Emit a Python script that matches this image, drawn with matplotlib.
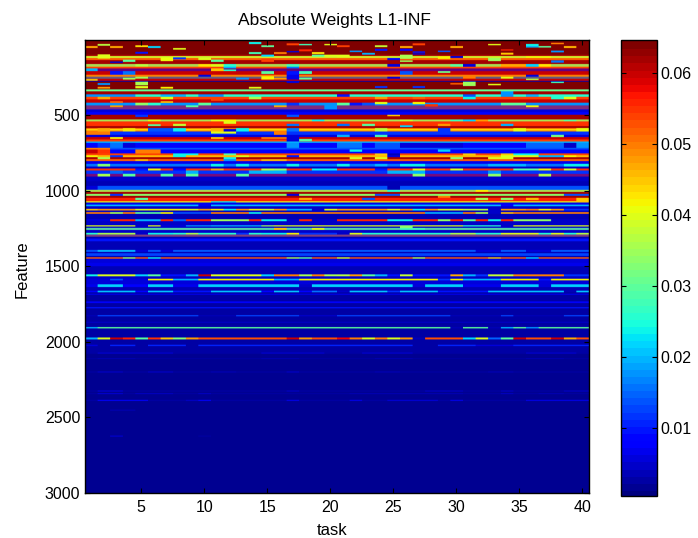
import numpy as np
import matplotlib
matplotlib.use("Agg")
import matplotlib.pyplot as plt

plt.rcParams['font.family'] = ['Liberation Sans', 'DejaVu Sans']

title = "Absolute Weights L1-INF"
x_label = "task"
y_label = "Feature"
x_ticks = [5, 10, 15, 20, 25, 30, 35, 40]
y_ticks = [500, 1000, 1500, 2000, 2500, 3000]
cbar_ticks = [0.01, 0.02, 0.03, 0.04, 0.05, 0.06]
n_tasks = 40
n_features = 3000

# Feature index where each horizontal band starts, and the band's usual weight
band_start = [0,97,106,119,133,159,177,188,206,230,243,270,276,327,340,360,376,393,415,433,460,477,495,526,539,570,583,606,628,643,659,672,681,714,725,751,763,776,789,802,820,838,851,864,886,904,935,966,992,1006,1019,1032,1045,1068,1076,1090,1101,1118,1129,1140,1151,1187,1200,1227,1235,1244,1258,1277,1288,1302,1315,1333,1390,1403,1412,1430,1439,1448,1476,1498,1552,1565,1581,1592,1618,1636,1660,1671,1680,1687,1731,1742,1769,1777,1822,1830,1866,1872,1901,1910,1970,1983,2018,2027,2069,2078,2107,2113,2195,2202,2321,2328,2339,2345,2383,2390]
band_weight = [.064,.062,.043,.052,.062,.046,.054,.008,.06,.05,.06,.004,.064,.034,.062,.026,.054,.06,.018,.056,.006,.009,.062,.045,.055,.062,.043,.012,.006,.06,.054,.02,.009,.014,.008,.054,.046,.062,.052,.007,.016,.005,.055,.012,.058,.005,.004,.014,.046,.062,.04,.062,.056,.04,.007,.02,.005,.048,.005,.05,.004,.056,.005,.04,.005,.036,.005,.026,.05,.004,.01,.004,.017,.004,.013,.004,.052,.006,.007,.004,.04,.005,.042,.006,.022,.004,.021,.003,.007,.003,.009,.003,.01,.003,.013,.003,.005,.003,.03,.003,.053,.0025,.011,.0025,.0025,.002,.0025,.002,.0025,.002,.0025,.002,.0025,.002,.0025,.002]

# Bands whose features alternate between two weights: first feature, end feature, second weight
mixed_bands = [
(188,206,.06),(243,256,.02),(433,460,.012),(886,904,.01),(992,1006,.03),(1019,1032,.028),
(1244,1258,.02),(1288,1302,.008),(106,119,.036),(327,340,.028),(1390,1403,.012),
(159,177,.03),(526,539,.03),(583,591,.056),(599,606,.056),
]

# Departures from the band weight: first feature, end feature, first task, last task, weight
patches = [
(26,38,2,2,.037),(40,53,1,1,.047),(40,53,3,3,.047),(35,47,5,5,.043),(40,53,6,6,.022),(53,64,8,8,.04),(13,27,14,14,.024),(35,47,15,15,.03),(22,35,17,17,.054),(26,35,18,18,.028),(62,75,18,18,.056),(26,35,20,20,.04),(78,91,5,5,.01),(73,82,17,17,.006),(80,93,14,14,.028),(80,93,16,16,.05),(80,93,19,19,.043),
(95,123,2,2,.04),(97,110,15,15,.022),(97,110,19,19,.03),(97,110,20,20,.04),(115,140,7,7,.041),(123,145,15,15,.054),(115,128,8,8,.012),(142,152,3,3,.005),(130,145,4,4,.03),(130,145,11,11,.03),(119,133,10,10,.04),
(159,177,5,5,.037),(159,177,11,11,.04),(159,177,17,17,.028),(159,177,12,12,.026),(159,177,10,10,.043),(177,188,12,12,.02),(177,188,17,17,.016),(188,206,1,1,.02),(188,206,11,11,.045),(195,206,12,12,.026),(206,230,4,4,.016),(206,225,15,15,.03),(206,230,17,17,.01),(206,225,18,18,.028),(206,230,3,3,.01),
(250,262,4,4,.035),(240,262,15,15,.042),(250,262,16,16,.048),(250,262,13,13,.018),(258,270,1,1,.045),(250,262,18,18,.03),(230,243,10,10,.006),(230,262,17,17,.007),(243,256,5,5,.035),
(276,300,5,5,.036),(285,298,2,2,.018),(310,322,2,2,.048),(310,322,7,7,.042),(310,322,14,14,.04),(305,320,5,5,.04),(270,285,17,17,.006),
(360,376,1,4,.018),(360,376,10,11,.018),(360,376,7,8,.02),(376,393,2,2,.047),(376,393,7,7,.04),(376,393,14,14,.036),(393,403,11,11,.054),
(415,433,5,5,.034),(415,433,6,6,.026),(405,417,7,7,.046),(405,417,3,3,.052),(415,433,10,10,.03),(415,433,17,17,.012),(433,445,9,9,.03),(433,445,3,3,.048),(433,445,16,16,.047),(433,460,20,20,.018),
(495,510,5,5,.012),(495,510,17,17,.014),(526,539,11,11,.04),(526,539,12,12,.042),(526,539,6,6,.04),(526,539,19,19,.024),(539,555,12,12,.04),(555,570,8,8,.038),(558,570,6,6,.03),(555,570,17,17,.016),
(583,606,8,8,.024),(583,606,2,2,.047),(583,606,13,13,.024),(583,606,4,4,.043),(583,606,11,11,.046),(583,606,6,7,.014),(590,606,12,12,.006),(583,606,17,17,.016),(606,628,1,2,.05),(606,628,16,16,.05),(606,620,11,12,.04),(628,672,17,17,.006),
(643,655,3,3,.042),(643,655,11,11,.045),(643,655,15,16,.05),(655,670,18,18,.03),(681,714,3,3,.016),(681,714,17,17,.018),(681,714,2,2,.012),(681,714,4,4,.006),(714,725,1,2,.05),(725,751,1,1,.06),(725,751,2,2,.055),(725,751,5,6,.05),(751,763,8,8,.024),(751,763,9,9,.024),(751,763,12,12,.03),
# right half, top
(35,47,21,21,.054),(35,47,24,24,.038),(40,53,26,26,.047),(22,35,27,27,.054),(40,53,30,30,.047),(26,35,33,33,.04),(26,40,36,36,.024),(40,50,36,36,.02),(40,50,37,37,.03),(18,28,38,38,.05),(40,53,39,39,.046),(70,82,38,38,.018),(70,80,22,22,.018),(70,80,29,29,.014),(62,70,34,34,.056),(75,85,27,27,.01),(58,72,24,24,.01),(58,72,26,26,.008),(85,97,23,23,.02),(88,97,27,27,.006),(84,97,34,34,.045),
(97,115,21,21,.04),(97,125,26,26,.036),(106,125,29,29,.042),(106,119,30,30,.006),(106,119,36,37,.041),(119,140,33,33,.035),(135,150,38,38,.016),(135,145,26,26,.035),(119,133,25,25,.009),
(159,177,30,30,.03),(159,177,31,31,.006),(159,177,36,36,.022),(159,177,37,37,.043),(159,177,34,35,.047),(159,177,25,25,.006),(206,218,29,29,.032),(206,230,26,26,.014),(230,243,36,36,.006),(243,256,34,34,.04),(243,256,31,31,.05),(256,265,36,36,.037),(243,256,25,25,.006),
(276,285,38,38,.028),(285,295,30,30,.052),(276,305,31,31,.035),(305,318,24,24,.012),(305,318,27,27,.012),(290,300,33,33,.04),
(360,376,21,21,.01),(360,376,31,31,.014),(340,376,34,34,.018),(360,376,36,36,.02),(376,393,38,38,.026),(376,393,39,39,.04),(376,393,31,31,.024),(376,393,24,24,.048),(376,393,27,27,.052),
(415,433,21,21,.03),(415,433,22,22,.01),(415,433,23,23,.014),(410,425,24,24,.04),(410,425,27,27,.042),(425,440,28,28,.055),(433,445,36,36,.042),(415,433,34,35,.03),(495,505,25,25,.045),
(526,539,26,26,.038),(526,539,31,31,.022),(526,539,30,30,.028),(526,539,32,32,.048),(526,539,39,39,.03),(555,570,21,21,.016),(555,570,23,23,.03),(555,570,29,29,.048),(555,570,34,34,.02),(565,577,26,26,.022),
(583,606,24,24,.038),(583,606,29,29,.012),(583,606,40,40,.041),(583,606,35,35,.041),(628,643,24,24,.028),(628,643,38,38,.032),(628,643,21,21,.02),(681,714,21,22,.016),(681,714,24,25,.014),(681,714,26,29,.006),(681,714,30,30,.006),(681,714,36,38,.015),(681,714,39,39,.005),(681,714,40,40,.018),(725,740,29,29,.022),(725,740,22,22,.024),
(751,763,24,24,.045),(751,763,31,31,.045),(751,763,34,34,.045),(751,763,35,36,.024),(751,763,25,25,.004),
# middle
(763,776,1,1,.042),(763,776,8,8,.024),(763,776,17,17,.01),(763,776,13,13,.04),(763,776,3,3,.012),(776,789,2,2,.036),(776,789,12,12,.024),(789,802,5,5,.046),(789,802,15,16,.046),(789,802,12,12,.018),
(820,838,2,2,.033),(820,838,11,11,.024),(820,838,13,13,.024),(820,838,17,17,.024),(851,864,6,6,.042),(851,864,11,11,.047),(851,864,16,16,.035),(851,864,15,15,.038),(851,864,5,5,.01),(851,864,8,8,.009),(851,864,19,20,.024),(864,886,14,16,.02),(864,886,9,9,.02),(864,886,3,3,.015),(886,904,2,2,.036),(886,904,4,4,.03),(886,904,13,13,.03),(886,904,9,9,.03),(886,904,7,7,.03),
(851,864,24,24,.01),(851,864,27,27,.042),(851,864,30,30,.04),(851,864,37,37,.042),(851,864,39,39,.04),(851,864,35,36,.03),(886,904,27,27,.034),(886,904,33,33,.034),(886,904,37,37,.037),(864,886,25,27,.02),(864,886,33,33,.018),(820,838,21,21,.024),(820,838,24,24,.02),(820,838,26,27,.024),(820,838,33,35,.02),(820,838,39,40,.024),(776,789,22,22,.04),(776,789,24,24,.04),(776,789,30,30,.034),(776,789,33,34,.04),(763,776,24,24,.046),(763,776,25,25,.006),(763,776,34,36,.04),(763,776,37,38,.02),(763,776,39,39,.042),
(966,992,1,1,.006),(966,992,25,25,.004),(992,1006,32,32,.042),(992,1006,25,25,.026),(1019,1032,3,3,.012),(1019,1032,17,17,.006),(1019,1032,24,25,.014),(1019,1032,39,40,.014),(1045,1060,5,5,.03),(1045,1060,18,18,.047),(1045,1060,32,32,.036),(1045,1060,36,36,.046),(1045,1060,34,34,.034),(1032,1045,29,29,.05),(1045,1075,40,40,.045),(1045,1060,23,23,.014),
(1068,1076,10,10,.042),(1068,1076,14,14,.04),(1068,1076,20,20,.042),(1068,1076,11,12,.024),(1090,1101,10,10,.007),(1090,1101,34,34,.008),(1118,1129,1,1,.045),(1118,1129,5,5,.04),(1118,1129,6,8,.042),(1118,1129,9,9,.04),(1118,1129,11,11,.042),(1118,1129,12,12,.024),(1118,1129,14,14,.042),(1118,1129,15,15,.038),(1118,1129,17,18,.02),(1118,1129,19,19,.005),(1118,1129,20,20,.04),(1118,1129,25,25,.04),(1118,1129,27,27,.024),(1118,1129,29,30,.04),(1118,1129,31,32,.037),(1118,1129,33,33,.005),(1118,1129,36,36,.05),(1118,1129,37,37,.042),(1118,1129,39,40,.012),
(1140,1151,3,3,.036),(1140,1151,7,7,.042),(1140,1151,14,14,.024),(1140,1151,5,6,.03),(1140,1151,8,10,.014),(1140,1151,32,32,.036),(1140,1151,34,34,.046),(1140,1151,28,30,.02),(1140,1151,33,33,.005),
(1187,1200,1,2,.006),(1187,1200,5,6,.02),(1187,1200,8,8,.015),(1187,1200,11,13,.035),(1187,1200,15,16,.024),(1187,1200,17,17,.005),(1187,1200,19,20,.005),(1187,1200,25,26,.024),(1187,1200,29,29,.034),(1187,1200,31,31,.03),(1187,1200,33,33,.024),(1187,1200,35,37,.034),(1187,1200,38,40,.005),
(1227,1235,5,5,.005),(1227,1235,7,8,.006),(1227,1235,9,10,.018),(1227,1235,11,14,.02),(1227,1235,15,15,.035),(1227,1235,25,25,.04),(1227,1235,27,28,.04),(1227,1235,31,33,.026),(1227,1235,34,34,.005),(1244,1258,16,16,.045),(1244,1258,19,19,.04),(1244,1258,26,27,.028),(1227,1244,26,26,.034),(1277,1288,2,4,.036),(1277,1288,5,5,.005),(1277,1288,6,7,.024),(1277,1288,9,9,.036),(1277,1288,13,13,.012),(1277,1288,15,16,.024),(1277,1288,17,17,.042),(1277,1288,18,20,.012),(1277,1288,21,21,.005),(1277,1288,22,22,.04),(1277,1288,30,31,.036),(1277,1288,34,36,.04),(1277,1288,38,38,.04),(1277,1288,40,40,.037),
(1390,1403,1,1,.014),(1390,1403,2,4,.02),(1390,1403,5,5,.006),(1390,1403,7,7,.006),(1390,1403,32,33,.006),(1390,1403,36,37,.006),(1439,1448,4,4,.035),(1439,1448,6,6,.024),(1439,1448,17,17,.036),(1439,1448,18,18,.03),(1439,1448,21,21,.04),(1439,1448,27,27,.037),(1439,1448,36,36,.022),(1439,1448,33,33,.045),
# lower lines
(1552,1565,1,1,.024),(1552,1565,5,5,.022),(1552,1565,6,6,.03),(1552,1565,7,8,.01),(1552,1565,9,9,.02),(1552,1565,10,10,.06),(1552,1565,15,15,.022),(1552,1565,16,17,.05),(1552,1565,18,18,.036),(1552,1565,19,19,.05),(1552,1565,20,20,.036),(1552,1565,21,21,.037),(1552,1565,22,22,.048),(1552,1565,23,23,.03),(1552,1565,24,24,.02),(1552,1565,25,25,.01),(1552,1565,26,26,.038),(1552,1565,27,29,.01),(1552,1565,30,30,.047),(1552,1565,31,31,.02),(1552,1565,32,32,.012),(1552,1565,33,34,.038),(1552,1565,35,38,.05),(1552,1565,39,40,.012),
(1581,1592,1,5,.006),(1581,1592,3,3,.014),(1581,1592,8,9,.02),(1581,1592,16,17,.02),(1581,1592,29,29,.012),(1581,1592,31,33,.02),(1581,1592,37,37,.01),
(1618,1636,1,1,.007),(1618,1636,4,5,.008),(1618,1636,8,9,.007),(1618,1636,18,18,.005),(1618,1636,27,27,.006),(1618,1636,31,33,.007),(1618,1636,37,37,.006),
(1660,1671,1,1,.008),(1660,1671,5,5,.008),(1660,1671,8,10,.01),(1660,1671,15,15,.008),(1660,1671,18,18,.008),(1660,1671,19,20,.016),(1660,1671,21,21,.005),(1660,1671,25,25,.012),(1660,1671,29,32,.01),(1660,1671,39,39,.004),
(1822,1830,1,1,.004),(1822,1830,10,12,.004),(1822,1830,18,20,.005),(1822,1830,30,33,.004),(1822,1830,35,38,.004),
(1901,1910,1,1,.02),(1901,1910,30,30,.004),(1901,1910,33,33,.004),(1901,1910,34,34,.02),(1901,1910,36,36,.018),
(1970,1983,1,1,.02),(1970,1983,2,2,.04),(1970,1983,3,3,.06),(1970,1983,4,4,.056),(1970,1983,5,5,.03),(1970,1983,6,6,.055),(1970,1983,7,7,.045),(1970,1983,8,8,.033),(1970,1983,9,9,.048),(1970,1983,17,17,.06),(1970,1983,18,18,.048),(1970,1983,21,21,.058),(1970,1983,22,22,.05),(1970,1983,23,23,.04),(1970,1983,24,24,.05),(1970,1983,25,25,.04),(1970,1983,26,26,.048),(1970,1983,27,27,.004),(1970,1983,31,31,.022),(1970,1983,32,32,.04),(1970,1983,33,33,.015),(1970,1983,34,34,.03),(1970,1983,35,35,.06),(1970,1983,38,38,.06),(1970,1983,39,39,.047),
(2018,2027,1,1,.006),(2018,2027,2,2,.003),(2018,2027,5,5,.003),(2018,2027,9,9,.003),(2018,2027,27,28,.003),(2018,2027,32,34,.006),
# faint marks in the dark lower part
(2069,2078,2,5,.005),(2069,2078,6,7,.005),(2069,2078,15,19,.005),(2069,2078,23,26,.005),(2069,2078,36,39,.005),
(2107,2113,2,4,.004),(2107,2113,15,17,.004),(2107,2113,24,26,.004),(2107,2113,36,38,.004),
(2195,2202,2,3,.005),(2195,2202,6,7,.005),(2195,2202,11,12,.004),(2195,2202,17,17,.005),(2195,2202,24,25,.004),(2195,2202,33,34,.004),
(2321,2328,2,3,.006),(2321,2328,17,17,.005),(2321,2328,28,30,.005),(2321,2328,34,34,.005),(2321,2328,39,40,.005),
(2339,2345,2,3,.006),(2339,2345,5,7,.005),(2339,2345,10,10,.005),(2339,2345,22,30,.004),(2339,2345,34,34,.005),(2339,2345,37,38,.004),
(2383,2390,2,5,.008),(2383,2390,9,9,.005),(2383,2390,10,10,.008),(2383,2390,17,17,.007),(2383,2390,22,22,.007),(2383,2390,25,28,.006),(2383,2390,30,30,.007),(2383,2390,36,40,.007),
(2449,2453,3,4,.005),(2620,2626,3,3,.006),(2620,2626,10,10,.003),
]

weights = np.zeros((n_features, n_tasks))
ends = band_start[1:] + [n_features]
for s, e, w in zip(band_start, ends, band_weight):
    weights[s:e, :] = w
for f0, f1, w in mixed_bands:
    weights[f0:f1:2, :] = w
for f0, f1, t0, t1, w in patches:
    weights[f0:f1, t0 - 1:t1] = w

W, H = 698, 538
L, R, T, B = 84.5, 588.5, 40.0, 492.7
fig = plt.figure(figsize=(W / 100, H / 100), dpi=100)
ax = fig.add_axes([L / W, 1 - B / H, (R - L) / W, (B - T) / H])
cmap = plt.get_cmap('jet', 64)
# Each task column is repeated so smoothing acts along the features only
im = ax.imshow(np.repeat(weights, 13, axis=1), cmap=cmap, vmin=0.0004, vmax=0.0646, aspect='auto',
               interpolation='hanning', interpolation_stage='rgba',
               extent=[0.5, 40.5, 3000.5, 0.5])
ax.set_xticks(x_ticks)
ax.set_yticks(y_ticks)
ax.tick_params(direction='in', length=3.6, width=0.8, top=True, right=True, labelsize=11.5)
ax.tick_params(axis='x', pad=5.5)
ax.tick_params(axis='y', pad=3)
ax.set_xlabel(x_label, fontsize=12)
ax.xaxis.set_label_coords((332 - L) / (R - L), -0.067)
ax.set_ylabel(y_label, fontsize=12)
ax.yaxis.set_label_coords(-0.108, 0.494)
ax.set_title(title, fontsize=12.5, pad=11, x=(334 - L) / (R - L))
for s in ax.spines.values():
    s.set_linewidth(1.0)

cax = fig.add_axes([620.5 / W, 1 - 496 / H, 36.5 / W, 456 / H])
cb = fig.colorbar(im, cax=cax, ticks=cbar_ticks)
cb.ax.set_yticklabels([f"{t:g}" for t in cbar_ticks])
cb.ax.tick_params(direction='in', length=3.4, width=0.8, left=True, right=True, labelsize=11.5, pad=2.7)
cb.outline.set_linewidth(1.0)
cb.solids.set_edgecolor('face')

fig.savefig("out.png", dpi=100)
